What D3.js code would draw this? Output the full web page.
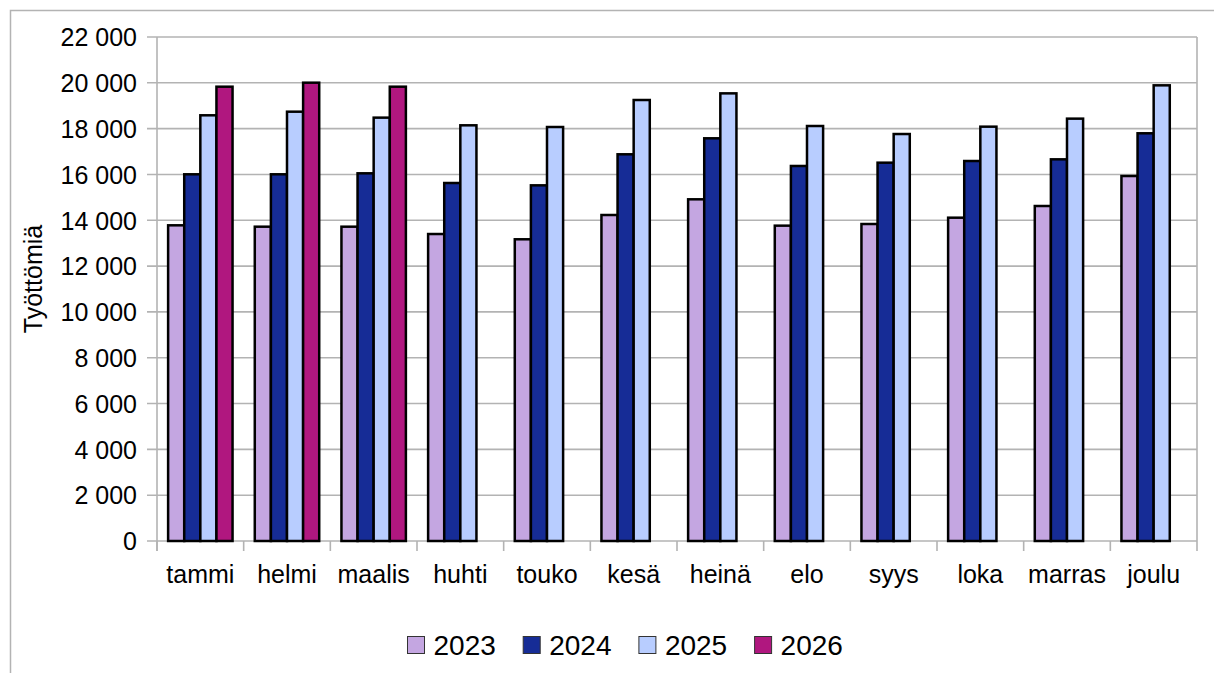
<!DOCTYPE html>
<html><head><meta charset="utf-8">
<script src="https://cdn.jsdelivr.net/npm/d3@7"></script>
<style>body{margin:0;background:#fff;} svg{display:block;font-family:"Liberation Sans",Arial,sans-serif;}</style>
</head><body>
<svg id="c" width="1214" height="673"></svg>
<script>
const months = ["tammi","helmi","maalis","huhti","touko","kesä","heinä","elo","syys","loka","marras","joulu"];
const seriesNames = ["2023","2024","2025","2026"];
const v2023 = [13780,13720,13720,13400,13170,14230,14915,13765,13837,14113,14623,15932];
const v2024 = [16007,16007,16050,15627,15525,16880,17578,16370,16514,16587,16660,17797];
const v2025 = [18582,18740,18480,18145,18071,19250,19540,18115,17765,18086,18436,19890];
const v2026 = [19831,20006,19831,null,null,null,null,null,null,null,null,null];
const yTicks = [0,2000,4000,6000,8000,10000,12000,14000,16000,18000,20000,22000];
const colors = ["#c4a6e1","#162c96","#b8cdff","#b0177f"];
const seriesValues = [v2023,v2024,v2025,v2026];

const svg = d3.select("#c");
const L=157,R=1197,T=37,B=541;
const FONT = "Liberation Sans, Arial, sans-serif";
const x = d3.scaleBand().domain(months).range([L,R]).paddingInner(0).paddingOuter(0);
const xs = d3.scaleBand().domain(seriesNames).range([0,x.bandwidth()]).paddingOuter(0.69).paddingInner(0);
const y = d3.scaleLinear().domain([0,22000]).range([B,T]);
const fmt = v => d3.format(",")(v).replace(/,/g," ");

// outer border
svg.append("path").attr("d","M10.5,673 L10.5,10.5 L1214,10.5").attr("fill","none").attr("stroke","#b3b3b3").attr("stroke-width",1.5);

// gridlines
svg.append("g").selectAll("line").data(yTicks).join("line")
  .attr("x1",L-10).attr("x2",R).attr("y1",d=>y(d)).attr("y2",d=>y(d))
  .attr("stroke","#b3b3b3").attr("stroke-width",1.6);
// right border of plot
svg.append("line").attr("x1",R).attr("x2",R).attr("y1",T).attr("y2",B+10).attr("stroke","#b3b3b3").attr("stroke-width",1.6);

// y axis
const ya = svg.append("g").attr("transform",`translate(${L},0)`)
  .call(d3.axisLeft(y).tickValues(yTicks).tickFormat(fmt).tickSize(0).tickPadding(20));
ya.select(".domain").attr("stroke","#b3b3b3").attr("stroke-width",1.6).attr("d",`M0,${T}V${B+10}`);
ya.selectAll("text").attr("font-size","25px").attr("fill","#000").attr("font-family",FONT).attr("dy","0.35em");

// x axis ticks at band boundaries
svg.append("g").selectAll("line").data(months).join("line")
  .attr("x1",d=>x(d)).attr("x2",d=>x(d)).attr("y1",B).attr("y2",B+10)
  .attr("stroke","#b3b3b3").attr("stroke-width",1.6);
svg.append("g").selectAll("text").data(months).join("text")
  .attr("x",d=>x(d)+x.bandwidth()/2).attr("y",583).attr("text-anchor","middle")
  .attr("font-size","25px").attr("fill","#000").attr("font-family",FONT).text(d=>d);

// bars
const data = [];
months.forEach((m,i)=>seriesNames.forEach((s,j)=>{ if(seriesValues[j][i]!=null) data.push({m,s,j,v:seriesValues[j][i]}); }));
svg.append("g").selectAll("rect").data(data).join("rect")
  .attr("x",d=>x(d.m)+xs(d.s)).attr("width",xs.bandwidth())
  .attr("y",d=>y(d.v)).attr("height",d=>B-y(d.v))
  .attr("fill",d=>colors[d.j]).attr("stroke","#000").attr("stroke-width",2.5);

// y label
svg.append("text").attr("transform","translate(42,279) rotate(-90)").attr("text-anchor","middle")
  .attr("font-size","25px").attr("fill","#000").attr("font-family",FONT).text("Työttömiä");

// legend
const lg = svg.append("g").selectAll("g").data(seriesNames).join("g")
  .attr("transform",(d,i)=>`translate(${407.5+i*115.7},636.5)`);
lg.append("rect").attr("width",17).attr("height",17).attr("fill",(d,i)=>colors[i]).attr("stroke","#333").attr("stroke-width",1);
lg.append("text").attr("x",26).attr("y",18.5).attr("font-size","28px").attr("fill","#000").attr("font-family",FONT).text(d=>d);
</script>
</body></html>
